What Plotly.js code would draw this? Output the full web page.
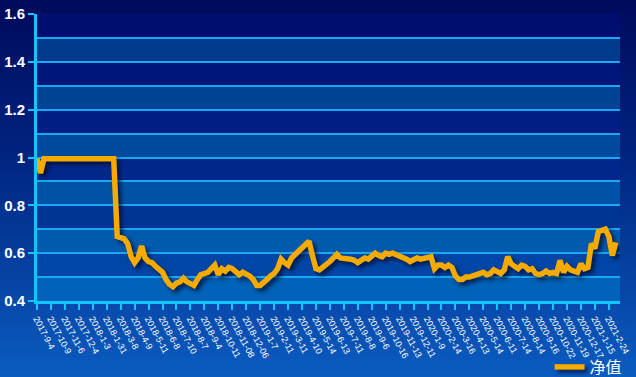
<!DOCTYPE html>
<html>
<head>
<meta charset="utf-8">
<script src="https://cdn.plot.ly/plotly-3.0.1.min.js"></script>
<style>
html,body{margin:0;padding:0;}
#chart{width:636px;height:377px;background:linear-gradient(to bottom,#000a5c 0%,#00237f 40%,#0a5cc0 100%);}
.scatterlayer .trace path.js-line{filter:drop-shadow(3px 3px 2px rgba(0,8,40,0.75));}
.legend .legendlines path{filter:drop-shadow(3px 3px 2px rgba(0,8,40,0.75));}
</style>
</head>
<body>
<div id="chart"></div>
<script>
var seriesName = '净值';
var tickLabels = ['2017-9-4','2017-10-9','2017-11-6','2017-12-4','2018-1-3','2018-1-31','2018-3-8','2018-4-9','2018-5-11','2018-6-8','2018-7-10','2018-8-7','2018-9-4','2018-10-11','2018-11-08','2018-12-06','2019-1-7','2019-2-11','2019-3-11','2019-4-10','2019-5-14','2019-6-13','2019-7-11','2019-8-8','2019-9-6','2019-10-16','2019-11-13','2019-12-11','2020-1-9','2020-2-14','2020-3-16','2020-4-13','2020-5-14','2020-6-11','2020-7-14','2020-8-14','2020-9-16','2020-10-22','2020-11-19','2020-12-17','2021-1-15','2021-2-24'];
var netValue = [
0.995,0.935,0.995,0.995,0.995,0.995,0.995,0.995,0.995,0.995,
0.995,0.995,0.995,0.995,0.995,0.995,0.995,0.995,0.995,0.995,
0.995,0.995,0.995,0.67,0.665,0.66,0.64,0.585,0.56,0.58,
0.63,0.58,0.565,0.56,0.545,0.53,0.52,0.49,0.47,0.46,
0.475,0.48,0.495,0.48,0.47,0.465,0.49,0.51,0.515,0.52,
0.535,0.55,0.51,0.535,0.525,0.54,0.535,0.525,0.51,0.52,
0.515,0.505,0.49,0.465,0.465,0.475,0.49,0.505,0.515,0.535,
0.575,0.56,0.55,0.58,0.595,0.61,0.62,0.635,0.65,0.59,
0.535,0.53,0.54,0.55,0.565,0.58,0.595,0.58,0.58,0.58,
0.575,0.57,0.56,0.57,0.58,0.575,0.59,0.60,0.59,0.585,
0.60,0.595,0.60,0.595,0.59,0.585,0.575,0.565,0.575,0.58,
0.575,0.58,0.58,0.585,0.535,0.55,0.55,0.54,0.55,0.54,
0.505,0.49,0.49,0.50,0.50,0.505,0.51,0.515,0.52,0.51,
0.515,0.53,0.52,0.515,0.53,0.585,0.555,0.545,0.535,0.55,
0.545,0.53,0.535,0.515,0.51,0.515,0.525,0.515,0.52,0.515,
0.57,0.52,0.545,0.53,0.525,0.52,0.555,0.535,0.54,0.64,
0.62,0.69,0.695,0.70,0.67,0.59,0.645
];
var pointsPerTick = 4;
var xIdx = netValue.map(function(_, i){ return i; });
var tickVals = tickLabels.map(function(_, k){ return k * pointsPerTick; });

var darkBands = ['#000e70','#00167a','#001e84','#00288c','#003596','#0046a6'];
var lightBands = ['#003a8c','#004294','#004a9e','#0052a6','#005aae','#0062b8'];
var bandShapes = [];
for (var b = 0; b < 12; b++) {
  var yHi = 1.6 - b * 0.1, yLo = yHi - 0.1;
  var kk = Math.floor(b / 2);
  bandShapes.push({type:'rect', xref:'paper', yref:'y', x0:0, x1:1, y0:yLo, y1:yHi,
    fillcolor: (b % 2 === 0) ? darkBands[kk] : lightBands[kk], line:{width:0}, layer:'below'});
}

var fontFam = 'Arial, "Liberation Sans", "Noto Sans CJK SC", sans-serif';
var trace = {
  x: xIdx, y: netValue, type:'scatter', mode:'lines', name: seriesName,
  line:{color:'#f5aa00', width:5.5}
};
var layout = {
  width:636, height:377,
  margin:{l:37, r:16, t:14, b:76, autoexpand:false},
  paper_bgcolor:'rgba(0,0,0,0)', plot_bgcolor:'rgba(0,0,0,0)',
  shapes: bandShapes,
  showlegend:true,
  legend:{orientation:'h', x:1.013, xanchor:'right', y:-0.23, yanchor:'middle',
    font:{family:fontFam, size:16, color:'#ffffff'}, bgcolor:'rgba(0,0,0,0)'},
  xaxis:{range:[0, 167.2], tickmode:'array', tickvals:tickVals, ticktext:tickLabels,
    tickangle:62, tickfont:{family:fontFam, size:9, color:'#ffffff'}, automargin:false,
    showgrid:false, zeroline:false, showline:true, linecolor:'#12c4ff', linewidth:3,
    ticks:'outside', ticklen:6, tickwidth:2, tickcolor:'#12c4ff'},
  yaxis:{range:[0.4,1.6], tickmode:'linear', tick0:0.4, dtick:0.2, automargin:false,
    tickfont:{family:fontFam, size:15, color:'#ffffff', weight:'bold'},
    showgrid:true, gridcolor:'#1aa8f0', gridwidth:1.5,
    minor:{tick0:0.4, dtick:0.1, showgrid:true, gridcolor:'#1aa8f0', gridwidth:1.5},
    zeroline:false, showline:true, linecolor:'#12c4ff', linewidth:3,
    ticks:'outside', ticklen:6, tickwidth:2, tickcolor:'#12c4ff'}
};
Plotly.newPlot('chart', [trace], layout, {displayModeBar:false});
</script>
</body>
</html>
